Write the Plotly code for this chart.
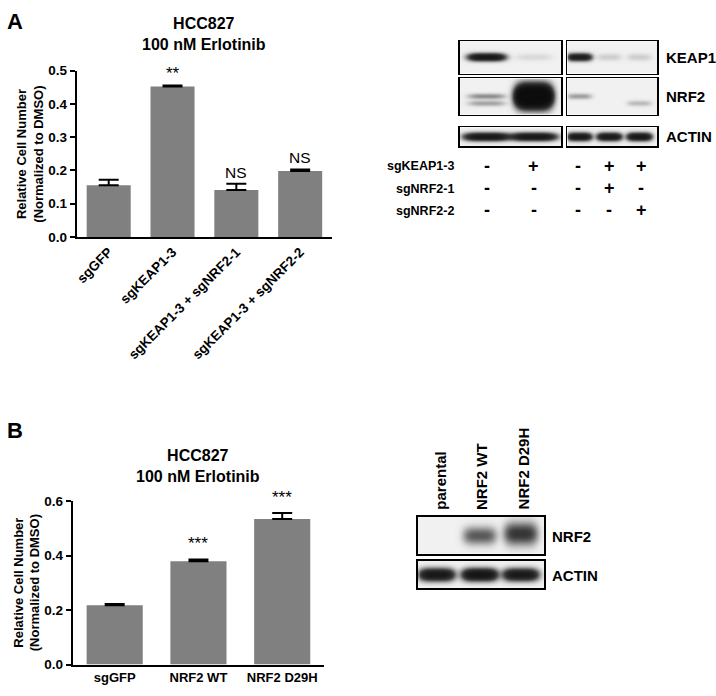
import numpy as np
import plotly.graph_objects as go

# ---------------- data ----------------
bar_a_labels = ["sgGFP", "sgKEAP1-3", "sgKEAP1-3 + sgNRF2-1", "sgKEAP1-3 + sgNRF2-2"]
bar_a_values = [0.155, 0.452, 0.141, 0.198]
bar_a_err = [0.017, 0.003, 0.019, 0.005]
bar_a_sig = ["", "**", "NS", "NS"]
bar_a_ticks = [0.0, 0.1, 0.2, 0.3, 0.4, 0.5]

bar_b_labels = ["sgGFP", "NRF2 WT", "NRF2 D29H"]
bar_b_values = [0.218, 0.379, 0.534]
bar_b_err = [0.004, 0.007, 0.022]
bar_b_sig = ["", "***", "***"]
bar_b_ticks = [0.0, 0.2, 0.4, 0.6]

blot_a_rows = ["KEAP1", "NRF2", "ACTIN"]
blot_a_keap1 = [1.0, 0.04, 0.85, 0.06, 0.06]
blot_a_nrf2_upper = [0.2, 3.0, 0.16, 0.0, 0.0]
blot_a_nrf2_lower = [0.15, 0.0, 0.0, 0.0, 0.1]
blot_a_actin = [1.0, 1.0, 0.95, 0.95, 1.0]
sg_rows = ["sgKEAP1-3", "sgNRF2-1", "sgNRF2-2"]
sg_keap1 = ["-", "+", "-", "+", "+"]
sg_nrf2_1 = ["-", "-", "-", "+", "-"]
sg_nrf2_2 = ["-", "-", "-", "-", "+"]

blot_b_rows = ["NRF2", "ACTIN"]
blot_b_lanes = ["parental", "NRF2 WT", "NRF2 D29H"]
blot_b_nrf2 = [0.0, 0.34, 0.5]
blot_b_actin = [1.0, 1.1, 0.95]

# ---------------- layout helpers ----------------
W, H = 716, 696
FONT = "Liberation Sans, Arial, sans-serif"


def px(x):
    return x / W


def py(y):
    return 1 - y / H


fig = go.Figure()
layout = dict(
    width=W, height=H, margin=dict(l=0, r=0, t=0, b=0),
    paper_bgcolor="white", plot_bgcolor="white", showlegend=False,
    font=dict(family=FONT, color="black"),
)
annotations = []


def ann(text, x, y, size, bold=True, xanchor="center", yanchor="middle", angle=0):
    annotations.append(dict(
        text=f"<b>{text}</b>" if bold else text, x=px(x), y=py(y), xref="paper", yref="paper",
        showarrow=False, xanchor=xanchor, yanchor=yanchor, textangle=angle,
        font=dict(family=FONT, size=size, color="black")))


# ---------------- bar charts ----------------
def bar_panel(idx, labels, values, err, sig, ticks, xdom, ydom, barw, tickangle, sigshift, tsize):
    xa, ya = f"x{idx}", f"y{idx}"
    fig.add_trace(go.Bar(
        x=labels, y=values, xaxis=xa, yaxis=ya, width=barw,
        marker=dict(color="#808080", line=dict(width=0)),
        error_y=dict(type="data", symmetric=False, array=err, arrayminus=[0] * len(err),
                     color="black", thickness=2, width=10),
        hoverinfo="skip"))
    key = "" if idx == 1 else str(idx)
    layout["xaxis" + key] = dict(
        domain=[px(xdom[0]), px(xdom[1])], anchor=ya, range=[-0.5, len(labels) - 0.5],
        showline=True, linecolor="black", linewidth=2, ticks="", showgrid=False,
        zeroline=False, tickangle=tickangle,
        tickfont=dict(family=FONT, size=tsize, color="black", weight="bold"))
    layout["yaxis" + key] = dict(
        domain=[py(ydom[0]), py(ydom[1])], anchor=xa, range=[0, ticks[-1]],
        tickvals=ticks, tickformat=".1f", showline=True, linecolor="black", linewidth=2,
        ticks="outside", ticklen=5, tickwidth=2, tickcolor="black", showgrid=False,
        zeroline=False, tickfont=dict(family=FONT, size=13.5, color="black", weight="bold"))
    for lab, v, e, s in zip(labels, values, err, sig):
        if s:
            annotations.append(dict(
                text=s, x=lab, y=v + e, xref=xa, yref=ya, showarrow=False,
                yanchor="bottom", yshift=sigshift,
                font=dict(family=FONT, size=17 if "*" in s else 15.5, color="black")))


bar_panel(1, bar_a_labels, bar_a_values, bar_a_err, bar_a_sig, bar_a_ticks,
          (75, 331), (235, 65), 0.69, -45, 1, 13.5)
bar_panel(2, bar_b_labels, bar_b_values, bar_b_err, bar_b_sig, bar_b_ticks,
          (71, 323), (672, 505), 0.67, 0, 4, 13)

# panel letters, titles, y titles
ann("A", 3, 15, 22, xanchor="left")
ann("B", 3, 433, 22, xanchor="left")
ann("HCC827<br>100 nM Erlotinib", 203, 27.5, 16)
ann("HCC827<br>100 nM Erlotinib", 197, 469, 16)
ann("Relative Cell Number<br>(Normalized to DMSO)", 28, 150, 13, angle=-90)
ann("Relative Cell Number<br>(Normalized to DMSO)", 25, 588, 13, angle=-90)

# ---------------- western blots ----------------
CSCALE = [[0, "#f1f1f1"], [0.35, "#9a9a9a"], [0.7, "#3a3a3a"], [1, "#0c0c0c"]]
blot_idx = [3]


def blot_box(x0, x1, y0, y1, bands):
    """bands: list of (intensity, x_center, y_center, half_w, half_h) in pixel space"""
    xs = np.arange(x0, x1) + 0.5
    ys = np.arange(y0, y1) + 0.5
    X, Y = np.meshgrid(xs, ys)
    val = np.zeros_like(X)
    for inten, xc, yc, hw, hh in bands:
        val += inten * np.exp(-(np.abs(X - xc) / hw) ** 4) * np.exp(-((Y - yc) / hh) ** 2)
    z = 1 - np.exp(-2.6 * val)
    i = blot_idx[0]
    blot_idx[0] += 1
    xa, ya = f"x{i}", f"y{i}"
    fig.add_trace(go.Heatmap(z=z, x=xs, y=ys, xaxis=xa, yaxis=ya, colorscale=CSCALE,
                             zmin=0, zmax=1, showscale=False, hoverinfo="skip",
                             zsmooth="best"))
    common = dict(showline=True, mirror=True, linecolor="black", linewidth=1.6,
                  showticklabels=False, ticks="", showgrid=False, zeroline=False,
                  fixedrange=True)
    layout[f"xaxis{i}"] = dict(domain=[px(x0), px(x1)], range=[x0, x1], anchor=ya, **common)
    layout[f"yaxis{i}"] = dict(domain=[py(y1), py(y0)], range=[y1, y0], anchor=xa, **common)


# panel A blots: lanes (pixel centers)
lanes_a = [486, 533, 579, 609, 639]
halfw_a = [18, 18, 12, 12, 12]
boxes_a_x = [(459, 561), (567, 657)]
lane_box = [0, 0, 1, 1, 1]
rows_y = [(35, 68), (73, 110), (123, 142)]
band_y = dict(keap1=51, nrf2_up=91, nrf2_lo=98, nrf2_big=91, actin=132.5)

for bi, (bx0, bx1) in enumerate(boxes_a_x):
    ln = [k for k in range(5) if lane_box[k] == bi]
    blot_box(bx0, bx1, *rows_y[0],
             [(blot_a_keap1[k], lanes_a[k], band_y["keap1"], halfw_a[k], 3.4) for k in ln])
    bands = []
    for k in ln:
        if k == 1:
            bands.append((blot_a_nrf2_upper[k], lanes_a[k], band_y["nrf2_big"], 17, 9.5))
        else:
            bands.append((blot_a_nrf2_upper[k], lanes_a[k], band_y["nrf2_up"], halfw_a[k], 2.6))
            bands.append((blot_a_nrf2_lower[k], lanes_a[k], band_y["nrf2_lo"], halfw_a[k], 2.6))
    blot_box(bx0, bx1, *rows_y[1], bands)
    blot_box(bx0, bx1, *rows_y[2],
             [(blot_a_actin[k], lanes_a[k], band_y["actin"],
               halfw_a[k] + 4 if bi == 0 else halfw_a[k], 3.6) for k in ln])

for name, (ry0, ry1) in zip(blot_a_rows, rows_y):
    ann(name, 664, (ry0 + ry1) / 2, 15, xanchor="left")

sign_x = [486, 533, 578, 609, 641]
sign_y = [163, 186, 208]
for rname, signs, yy in zip(sg_rows, [sg_keap1, sg_nrf2_1, sg_nrf2_2], sign_y):
    ann(rname, 455, yy, 12.5, xanchor="right")
    for s, xx in zip(signs, sign_x):
        ann(s, xx, yy - 1, 18)

# panel B blots
lanes_b = [436, 479, 520]
blot_box(417, 544, 521, 559,
         [(blot_b_nrf2[k], lanes_b[k], 540 if k == 1 else 538, 16, 8 if k == 1 else 10)
          for k in range(3)])
blot_box(417, 544, 566, 594,
         [(blot_b_actin[k], lanes_b[k], 580, 17, 5.5) for k in range(3)])
ann("NRF2", 550, 541, 15, xanchor="left")
ann("ACTIN", 550, 581, 15, xanchor="left")
for lab, xx in zip(blot_b_lanes, [440, 481, 523]):
    ann(lab, xx, 516, 15, angle=-90, yanchor="bottom")

layout["annotations"] = annotations
fig.update_layout(**layout)
fig.write_html("out.html", config={"displayModeBar": False, "staticPlot": True},
               post_script="document.body.style.margin='0';document.body.style.overflow='hidden';")
